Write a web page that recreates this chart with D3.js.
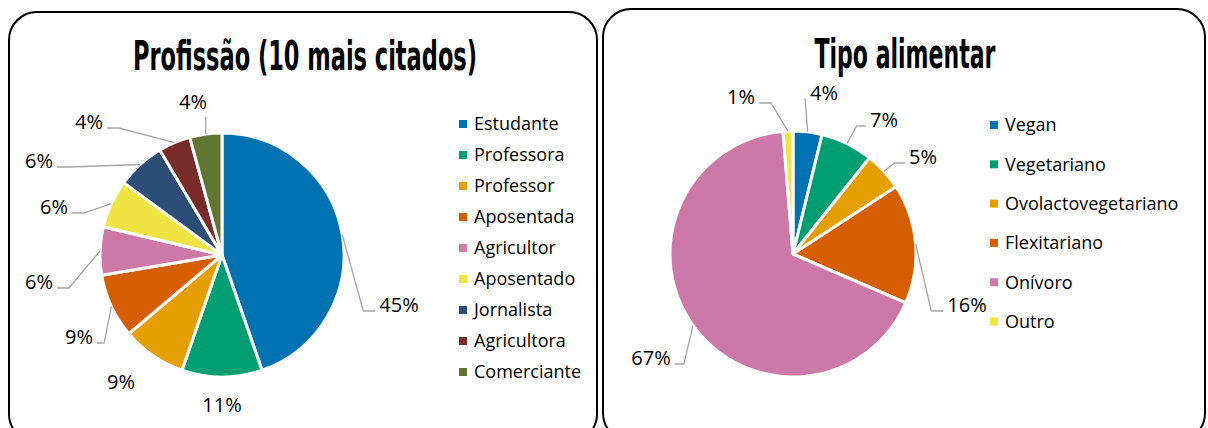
<!DOCTYPE html>
<html>
<head>
<meta charset="utf-8">
<script src="https://cdn.jsdelivr.net/npm/d3@7"></script>
<style>
  body { margin: 0; background: #fff; }
  text { font-family: "Open Sans", sans-serif; fill: #000; }
  .title { font-family: "Liberation Sans Narrow", "DejaVu Sans Condensed", sans-serif; font-weight: bold; }
</style>
</head>
<body>
<div id="chart"></div>
<script>
// Profissão (10 mais citados) - counts
const profCategories = ["Estudante", "Professora", "Professor", "Aposentada", "Agricultor", "Aposentado", "Jornalista", "Agricultora", "Comerciante"];
const profCounts = [21, 5, 4, 4, 3, 3, 3, 2, 2];
const profColors = ["#0072B2", "#009E73", "#E69F00", "#D55E00", "#CC79A7", "#F0E442", "#2C4D75", "#772C2A", "#5F7530"];

// Tipo alimentar - shares (%)
const dietCategories = ["Vegan", "Vegetariano", "Ovolactovegetariano", "Flexitariano", "Onívoro", "Outro"];
const dietValues = [3.8, 6.9, 5.1, 15.7, 67.2, 1.3];
const dietColors = ["#0072B2", "#009E73", "#E69F00", "#D55E00", "#CC79A7", "#F0E442"];

// label layout: offset from pie centre + leader line on/off
const profLabels = [[177, 50, true], [0, 150, false], [-101, 127, false], [-143, 82, true], [-183, 27, true],
                    [-168, -48, true], [-183, -94, true], [-133, -133, true], [-29, -153, true]];
const dietLabels = [[31, -161, true], [91, -134, true], [130, -97, true], [174, 51, true], [-142, 104, true], [-52, -157, true]];

const W = 1208, H = 428;
const svg = d3.select("#chart").append("svg").attr("width", W).attr("height", H);

// panels
svg.append("rect").attr("x", 9).attr("y", 12).attr("width", 588).attr("height", 430).attr("rx", 28)
  .attr("fill", "#fff").attr("stroke", "#000").attr("stroke-width", 2);
svg.append("rect").attr("x", 603).attr("y", 9).attr("width", 602).attr("height", 432).attr("rx", 28)
  .attr("fill", "#fff").attr("stroke", "#000").attr("stroke-width", 2);

svg.append("text").attr("class", "title").attr("x", 305).attr("y", 70).attr("text-anchor", "middle")
  .attr("font-size", 40).attr("textLength", 344).attr("lengthAdjust", "spacingAndGlyphs")
  .text("Profissão (10 mais citados)");
svg.append("text").attr("class", "title").attr("x", 905).attr("y", 68).attr("text-anchor", "middle")
  .attr("font-size", 40).attr("textLength", 181).attr("lengthAdjust", "spacingAndGlyphs")
  .text("Tipo alimentar");

function drawPie(o){
  const total = d3.sum(o.values);
  const arcs = d3.pie().sort(null).value(d => d)(o.values);
  const arc = d3.arc().innerRadius(0).outerRadius(o.r);
  const g = svg.append("g").attr("transform", "translate(" + o.cx + "," + o.cy + ")");
  const leaders = g.append("g");
  g.selectAll(".slice").data(arcs).enter().append("path")
    .attr("class", "slice")
    .attr("d", arc)
    .attr("fill", (d, i) => o.colors[i])
    .attr("stroke", "#fff")
    .attr("stroke-width", 3)
    .attr("stroke-linejoin", "round");

  const line = d3.line();
  arcs.forEach(function(d, i){
    const a = (d.startAngle + d.endAngle) / 2;
    const px = o.r * Math.sin(a), py = -o.r * Math.cos(a);
    const lx = o.labels[i][0], ly = o.labels[i][1];
    const t = g.append("text").attr("x", lx).attr("y", ly).attr("dy", "0.35em")
      .attr("text-anchor", "middle").attr("font-size", 20)
      .text(Math.round(d.value / total * 100) + "%");
    if(!o.labels[i][2]) return;
    const b = t.node().getBBox();
    let pts;
    if(px >= b.x && px <= b.x + b.width){
      pts = [[px, py], [px, ly + 15]];
    } else {
      const sgn = px > b.x + b.width ? 1 : -1;
      const ex = sgn > 0 ? b.x + b.width + 4 : b.x - 4;
      const ey = ly + 6;
      const el = Math.min(12, Math.abs(px - ex) * 0.5) * sgn;
      pts = [[px, py], [ex + el, ey], [ex, ey]];
    }
    leaders.append("path").attr("d", line(pts))
      .attr("fill", "none").attr("stroke", "#A6A6A6").attr("stroke-width", 1.3);
  });
  leaders.raise();
  g.selectAll("text").raise();

  const lg = svg.append("g").attr("transform", "translate(" + o.lx + "," + o.ly + ")");
  const rows = lg.selectAll(".legend").data(o.categories).enter().append("g")
    .attr("transform", (d, i) => "translate(0," + (i * o.step) + ")");
  rows.append("rect").attr("x", 0).attr("y", -4).attr("width", 8).attr("height", 8)
    .attr("fill", (d, i) => o.colors[i]);
  rows.append("text").attr("x", 15).attr("dy", "0.35em").attr("font-size", 18).text(d => d);
}

drawPie({values: profCounts, colors: profColors, categories: profCategories, labels: profLabels,
         cx: 222, cy: 255, r: 122, lx: 459, ly: 124, step: 31});
drawPie({values: dietValues, colors: dietColors, categories: dietCategories, labels: dietLabels,
         cx: 793, cy: 254, r: 123, lx: 990, ly: 125, step: 39.3});
</script>
</body>
</html>
